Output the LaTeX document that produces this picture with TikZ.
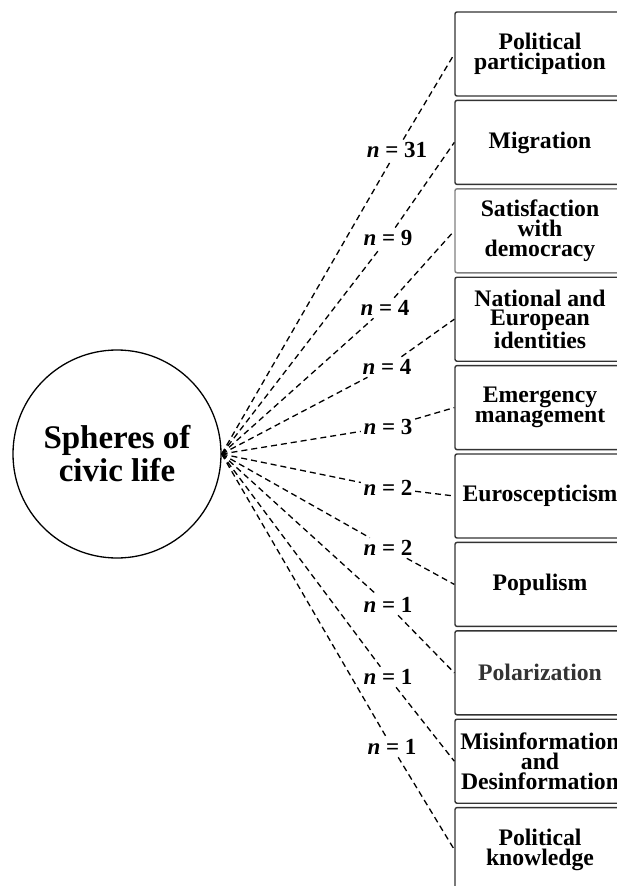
\documentclass[tikz,border=0pt]{standalone}
\usepackage{fontspec}
\setmainfont{Liberation Serif}
\begin{document}
\begin{tikzpicture}[x=1pt,y=-1pt,
    sphere/.style={draw,circle,line width=1.3pt,minimum size=208pt,inner sep=0pt,
      align=center,font=\bfseries\fontsize{33}{33}\selectfont},
    topic/.style={draw=black!80,line width=1.4pt,rounded corners=2pt,
      minimum width=170pt,minimum height=84pt,inner sep=0pt,
      align=center,font=\bfseries\fontsize{23.7}{19.8}\selectfont},
    nlabel/.style={inner sep=2.5pt,font=\bfseries\fontsize{23}{23}\selectfont},
    tie/.style={line width=1.3pt,dash pattern=on 6pt off 4pt}]
  \useasboundingbox (0,0) rectangle (617,886);
  \clip (0,0) rectangle (617,886);
  \node[sphere] (civic) at (117,454) {Spheres of\\civic life};
  \draw
    (540,54.0) node[topic] (t1){Political\\participation}
    (540,142.4) node[topic] (t2){Migration}
    (540,230.8) node[topic,draw=black!50] (t3){Satisfaction\\with\\democracy}
    (540,319.2) node[topic] (t4){National and\\European\\identities}
    (540,407.6) node[topic] (t5){Emergency\\management}
    (540,496.0) node[topic] (t6){Euroscepticism}
    (540,584.4) node[topic] (t7){Populism}
    (540,672.8) node[topic] (t8){\color{black!80}Polarization}
    (540,761.2) node[topic] (t9){Misinformation\\and\\Desinformation}
    (540,849.6) node[topic] (t10){Political\\knowledge};
  \draw
    (397,150) node[nlabel] (n1){\textit{n} = 31}
    (388,238) node[nlabel] (n2){\textit{n} = 9}
    (385,308) node[nlabel] (n3){\textit{n} = 4}
    (387,367) node[nlabel] (n4){\textit{n} = 4}
    (388,427) node[nlabel] (n5){\textit{n} = 3}
    (388,488) node[nlabel] (n6){\textit{n} = 2}
    (388,548) node[nlabel] (n7){\textit{n} = 2}
    (388,605) node[nlabel] (n8){\textit{n} = 1}
    (388,677) node[nlabel] (n9){\textit{n} = 1}
    (392,747) node[nlabel] (n10){\textit{n} = 1};
  \begin{scope}[tie]
    \foreach \i in {1,...,10}
      \draw (civic.east) -- (n\i) -- (t\i.west);
  \end{scope}
\end{tikzpicture}
\end{document}
